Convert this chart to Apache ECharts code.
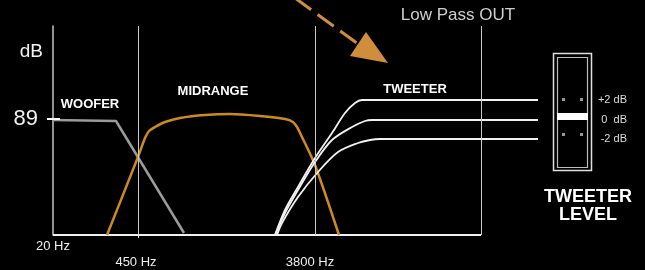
<!DOCTYPE html>
<html>
<head>
<meta charset="utf-8">
<script src="https://cdn.jsdelivr.net/npm/echarts@6/dist/echarts.min.js"></script>
<style>
  html, body { margin: 0; background: #000; }
  #chart { width: 645px; height: 270px; }
</style>
</head>
<body>
<div id="chart"></div>
<script>
// schematic units: x = position along the frequency axis, y = level above the baseline
const woofer = [[0, 115], [63, 114], [131, 2]]
const midrange = [
  [54, 0], [85, 78], [92, 97], [96, 104], [102, 108], [112, 113], [127, 117],
  [152, 120], [177, 121], [207, 119], [232, 116], [240, 113], [244, 108],
  [249, 98], [262, 70], [286, 0],
]
const tweeterPlus2 = [[222, 0], [232, 25], [245, 48], [262, 77], [279, 102], [292, 122], [302, 132], [309, 135], [485, 135]]
const tweeterZero = [[222, 0], [232, 22], [245, 45], [262, 73], [279, 95], [299, 108], [312, 114], [319, 115], [485, 115]]
const tweeterMinus2 = [[224, 0], [229, 12], [245, 38], [265, 63], [285, 83], [305, 92], [317, 95], [327, 96], [485, 96]]

const crossovers = [85, 262, 428] // 450 Hz, 3800 Hz, low pass out
const baseline = [[0, 0], [428, 0]]
const freqTicks = [0, 85, 262]
const freqLabels = ['20 Hz', '450 Hz', '3800 Hz']
const levelTicks = [116, 183]
const levelLabels = ['89', 'dB']
const refTick = [[0, 116], [7, 116]]
const arrowShaft = [[242, 237], [305, 191]]
const arrowHead = [[335, 172], [313, 203], [297, 179]]
const levelSteps = ['+2 dB', '0  dB', '-2 dB']

const FONT = '"Liberation Sans", Arial, sans-serif'
const ORANGE = '#cf8a1f'

const chart = echarts.init(document.getElementById('chart'))

const lineSeries = (name, data, color, width, extra) => Object.assign({
  name,
  type: 'line',
  data,
  symbol: 'none',
  clip: false,
  silent: true,
  lineStyle: { color, width },
}, extra || {})

const option = {
  backgroundColor: '#000',
  animation: false,
  grid: { left: 53, right: 107, top: 26, bottom: 35 },
  xAxis: {
    type: 'value',
    min: 0,
    max: 485,
    splitLine: { show: false },
    axisLine: { show: false },
    axisTick: { show: true, customValues: [85], length: 3, lineStyle: { color: '#f0f0f0', width: 1 } },
    axisLabel: {
      customValues: freqTicks,
      margin: 3,
      color: '#eee',
      fontFamily: FONT,
      fontSize: 13,
      formatter: (v) => {
        const i = freqTicks.indexOf(v)
        return '{' + ['a', 'b', 'c'][i] + '|' + freqLabels[i] + '}'
      },
      rich: {
        a: { fontFamily: FONT, fontSize: 13, color: '#eee', padding: [2, 0, 0, 0] },
        b: { fontFamily: FONT, fontSize: 13, color: '#eee', padding: [18, 4, 0, 0] },
        c: { fontFamily: FONT, fontSize: 13, color: '#eee', padding: [18, 10, 0, 0] },
      },
    },
  },
  yAxis: {
    type: 'value',
    min: 0,
    max: 209,
    splitLine: { show: false },
    axisTick: { show: true, customValues: [116], length: 6, lineStyle: { color: '#fff', width: 2 } },
    axisLine: { show: true, lineStyle: { color: '#c4c4c4', width: 1.5 } },
    axisLabel: {
      customValues: levelTicks,
      margin: 10,
      formatter: (v) => {
        const i = levelTicks.indexOf(v)
        return i === 0 ? '{big|' + levelLabels[0] + '}' : '{unit|' + levelLabels[1] + '}'
      },
      rich: {
        big: { fontFamily: FONT, fontSize: 22, color: '#f2f2f2', padding: [0, 5, 0, 0] },
        unit: { fontFamily: FONT, fontSize: 19, color: '#f2f2f2' },
      },
    },
  },
  series: [
    lineSeries('woofer', woofer, '#9b9b9b', 2.5, {
      markLine: {
        silent: true,
        symbol: 'none',
        label: { show: false },
        lineStyle: { color: '#c8c8c8', width: 1, type: 'solid' },
        data: crossovers.map((x) => ({ xAxis: x })),
      },
    }),
    lineSeries('baseline', baseline, '#f0f0f0', 2),
    lineSeries('midrange', midrange, ORANGE, 2.5, { smooth: 0.25 }),
    lineSeries('tweeter +2', tweeterPlus2, '#f2f2f2', 1.8, { smooth: 0.3 }),
    lineSeries('tweeter 0', tweeterZero, '#f2f2f2', 1.8, { smooth: 0.3 }),
    lineSeries('tweeter -2', tweeterMinus2, '#f2f2f2', 1.8, { smooth: 0.3 }),
    lineSeries('89 tick', refTick, '#ffffff', 2),
    lineSeries('arrow', arrowShaft, '#d08d3c', 3, { lineStyle: { color: '#d08d3c', width: 3, type: [20, 8] } }),
    {
      type: 'custom',
      silent: true,
      clip: false,
      data: [0],
      renderItem: (params, api) => ({
        type: 'polygon',
        shape: { points: arrowHead.map((p) => api.coord(p)) },
        style: { fill: '#d08d3c' },
      }),
    },
  ],
  graphic: [
    { type: 'text', x: 458, y: 15, style: { text: 'Low Pass OUT', font: '17px ' + FONT, fill: '#cfcfcf', textAlign: 'center', textVerticalAlign: 'middle' } },
    { type: 'text', x: 90, y: 104, style: { text: 'WOOFER', font: 'bold 13px ' + FONT, fill: '#fff', textAlign: 'center', textVerticalAlign: 'middle' } },
    { type: 'text', x: 213, y: 91, style: { text: 'MIDRANGE', font: 'bold 13px ' + FONT, fill: '#fff', textAlign: 'center', textVerticalAlign: 'middle' } },
    { type: 'text', x: 415, y: 89, style: { text: 'TWEETER', font: 'bold 13px ' + FONT, fill: '#fff', textAlign: 'center', textVerticalAlign: 'middle' } },
    // level switch
    { type: 'rect', shape: { x: 553.5, y: 53.5, width: 38, height: 117 }, style: { fill: null, stroke: '#e0e0e0', lineWidth: 1.5 } },
    { type: 'rect', shape: { x: 557.5, y: 57.5, width: 30, height: 110 }, style: { fill: null, stroke: '#bdbdbd', lineWidth: 1.2 } },
    { type: 'rect', shape: { x: 557, y: 113, width: 31, height: 7 }, style: { fill: '#fff' } },
    { type: 'rect', shape: { x: 562, y: 98, width: 3, height: 3 }, style: { fill: '#999' } },
    { type: 'rect', shape: { x: 580, y: 98, width: 3, height: 3 }, style: { fill: '#999' } },
    { type: 'rect', shape: { x: 562, y: 133, width: 3, height: 3 }, style: { fill: '#999' } },
    { type: 'rect', shape: { x: 580, y: 133, width: 3, height: 3 }, style: { fill: '#999' } },
    { type: 'text', x: 627, y: 100, style: { text: levelSteps[0], font: '11px ' + FONT, fill: '#ddd', textAlign: 'right', textVerticalAlign: 'middle' } },
    { type: 'text', x: 627, y: 120, style: { text: levelSteps[1], font: '11px ' + FONT, fill: '#ddd', textAlign: 'right', textVerticalAlign: 'middle' } },
    { type: 'text', x: 627, y: 139, style: { text: levelSteps[2], font: '11px ' + FONT, fill: '#ddd', textAlign: 'right', textVerticalAlign: 'middle' } },
    { type: 'text', x: 588, y: 197, style: { text: 'TWEETER', font: 'bold 18px ' + FONT, fill: '#fff', textAlign: 'center', textVerticalAlign: 'middle' } },
    { type: 'text', x: 588, y: 215, style: { text: 'LEVEL', font: 'bold 18px ' + FONT, fill: '#fff', textAlign: 'center', textVerticalAlign: 'middle' } },
  ],
}

chart.setOption(option)
</script>
</body>
</html>
